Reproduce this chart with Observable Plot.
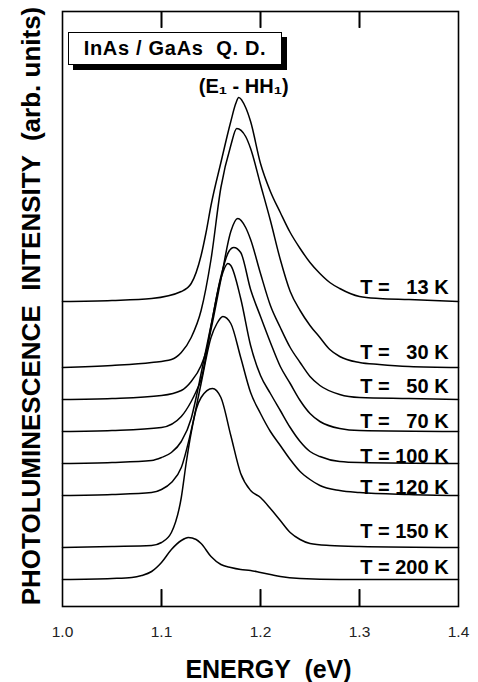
<!DOCTYPE html>
<html><head><meta charset="utf-8">
<script src="https://cdn.jsdelivr.net/npm/d3@7"></script>
<script src="https://cdn.jsdelivr.net/npm/@observablehq/plot@0.6"></script>
<style>
body{margin:0;background:#fff;font-family:"Liberation Sans",Arial,sans-serif;}
#wrap{position:relative;width:478px;height:682px;}
#box{position:absolute;left:68px;top:32px;width:212px;height:31px;border:1.5px solid #000;box-shadow:5px 5px 0 #000;background:#fff;font-weight:bold;font-size:20px;letter-spacing:0.7px;display:flex;align-items:center;justify-content:center;white-space:pre;z-index:2;}
</style></head><body><div id="wrap"></div>
<script>
// Temperatures (K) and vertical offsets of each spectrum (arb. units)
const temps   = [13, 30, 50, 70, 100, 120, 150, 200];
const offsets = [305, 239, 207, 175, 143, 111, 59, 27];
const labelY  = [313, 248, 214, 179, 144, 113, 69, 33];
const xTicks  = [1.0, 1.1, 1.2, 1.3, 1.4];
const yDomain = [0, 595];
const tickLen = 17;

// [energy (eV), PL intensity above own baseline (arb. units)]
const pl13K = [[1.00,0],[1.05,1],[1.09,3],[1.12,10],[1.13,18],[1.14,46],[1.145,69],[1.15,96],[1.16,139],[1.17,180],[1.175,198],[1.178,204],[1.185,194],[1.19,180],[1.20,138],[1.21,110],[1.22,89],[1.23,69],[1.24,53],[1.25,39],[1.26,28],[1.27,19],[1.28,13],[1.30,5],[1.32,3],[1.35,2],[1.40,0]];
const pl30K = [[1.00,0],[1.05,2],[1.09,5],[1.11,8],[1.12,15],[1.13,30],[1.14,57],[1.15,108],[1.16,180],[1.17,222],[1.176,239],[1.185,231],[1.19,219],[1.20,183],[1.21,147],[1.22,108],[1.23,76],[1.24,57],[1.25,42],[1.26,30],[1.27,18],[1.28,11],[1.30,5],[1.32,3],[1.35,1],[1.40,0]];
const pl50K = [[1.00,0],[1.05,1],[1.10,4],[1.12,9],[1.13,18],[1.14,34],[1.145,48],[1.15,70],[1.16,120],[1.17,168],[1.177,181],[1.185,172],[1.19,160],[1.20,126],[1.21,94],[1.22,72],[1.23,52],[1.24,37],[1.25,23],[1.26,14],[1.28,5],[1.30,2],[1.35,1],[1.40,0]];
const pl70K = [[1.00,0],[1.05,1],[1.10,4],[1.12,15],[1.13,30],[1.135,40],[1.14,52],[1.15,105],[1.16,155],[1.168,180],[1.173,184],[1.18,179],[1.19,142],[1.20,115],[1.21,89],[1.22,65],[1.23,48],[1.24,31],[1.25,18],[1.26,10],[1.28,3],[1.30,1],[1.40,0]];
const pl100K = [[1.00,0],[1.05,1],[1.09,3],[1.10,6],[1.11,11],[1.12,22],[1.13,45],[1.135,66],[1.14,90],[1.15,138],[1.16,185],[1.167,200],[1.17,198],[1.18,165],[1.19,118],[1.20,88],[1.21,70],[1.22,53],[1.23,36],[1.24,22],[1.25,12],[1.26,7],[1.28,2],[1.30,1],[1.40,0]];
const pl120K = [[1.00,0],[1.05,1],[1.09,3],[1.10,6],[1.11,13],[1.12,28],[1.13,65],[1.14,112],[1.15,158],[1.156,172],[1.162,179],[1.17,172],[1.18,138],[1.19,103],[1.20,82],[1.21,64],[1.22,50],[1.23,36],[1.24,24],[1.25,16],[1.26,10],[1.28,5],[1.30,3],[1.35,1],[1.40,0]];
const pl150K = [[1.00,0],[1.05,1],[1.09,2],[1.10,5],[1.11,15],[1.12,50],[1.125,85],[1.13,115],[1.135,138],[1.14,150],[1.1515,159],[1.16,150],[1.17,112],[1.18,74],[1.19,57],[1.20,50],[1.21,39],[1.22,27],[1.23,15],[1.24,8],[1.25,4],[1.27,2],[1.30,1],[1.40,0]];
const pl200K = [[1.00,0],[1.05,1],[1.07,2],[1.08,4],[1.09,8],[1.10,17],[1.11,30],[1.12,39],[1.127,42],[1.135,40],[1.14,36],[1.15,23],[1.16,15],[1.17,12],[1.18,10],[1.19,9],[1.20,7],[1.21,5],[1.22,3],[1.24,1],[1.28,0],[1.40,0]];

const spectra = [pl13K, pl30K, pl50K, pl70K, pl100K, pl120K, pl150K, pl200K];

const rows = [];
spectra.forEach((s, i) => s.forEach(([e, v]) => rows.push({T: temps[i], E: e, I: v + offsets[i]})));
const labels = temps.map((t, i) => ({text: "T =" + (t < 100 ? "   " : " ") + t + " K", y: labelY[i]}));
const peak13 = pl13K.reduce((a, b) => (b[1] > a[1] ? b : a));
const peakRow = [{E: peak13[0], I: peak13[1] + offsets[0]}];
const innerTicks = xTicks.slice(1, -1);
const tickRows = innerTicks.flatMap(x => [
  {x, y1: yDomain[0], y2: yDomain[0] + tickLen},
  {x, y1: yDomain[1] - tickLen + 1, y2: yDomain[1]}
]);

const chart = Plot.plot({
  width: 478, height: 682,
  marginLeft: 62, marginRight: 20, marginTop: 11, marginBottom: 76,
  x: {domain: [1.0, 1.4]},
  y: {domain: yDomain, axis: null},
  style: {fontFamily: "'Liberation Sans', Arial, sans-serif", color: "#000", background: "#fff"},
  marks: [
    Plot.axisX({anchor: "bottom", ticks: xTicks, tickSize: 0, tickPadding: 19, tickFormat: d3.format(".1f"), fontSize: 15.5, label: null, fill: "#222"}),
    Plot.axisX({anchor: "bottom", ticks: innerTicks, tickSize: tickLen, dy: -tickLen, fill: "none", label: null, stroke: "#000", strokeWidth: 1.6}),
    Plot.axisX({anchor: "top", ticks: innerTicks, tickSize: tickLen - 1, dy: tickLen - 1, fill: "none", label: null, stroke: "#000", strokeWidth: 1.6}),
    Plot.line(rows, {x: "E", y: "I", z: "T", curve: "monotone-x", stroke: "#000", strokeWidth: 1.5}),
    Plot.frame({stroke: "#000", strokeWidth: 1.6}),
    Plot.link(tickRows, {x1: "x", x2: "x", y1: "y1", y2: "y2", stroke: "#000", strokeWidth: 1.6}),
    Plot.text(labels, {x: () => 1.39, y: "y", text: "text", textAnchor: "end", lineAnchor: "bottom", fontSize: 20, fontWeight: "bold"}),
    Plot.text(peakRow, {x: "E", y: "I", text: () => "(E\u2081 - HH\u2081)", dx: 5, dy: -5, lineAnchor: "bottom", fontSize: 20, fontWeight: "bold"}),
    Plot.text(["PHOTOLUMINESCENCE  INTENSITY  (arb. units)"], {frameAnchor: "left", textAnchor: "middle", rotate: -90, dx: -31, dy: -3, fontSize: 26, fontWeight: "bold"}),
    Plot.text(["ENERGY  (eV)"], {frameAnchor: "bottom", dx: 8, dy: 71, lineAnchor: "bottom", fontSize: 25, fontWeight: "bold"})
  ]
});
const wrap = document.getElementById("wrap");
wrap.appendChild(chart);
const box = document.createElement("div");
box.id = "box";
box.textContent = "InAs / GaAs  Q. D.";
wrap.appendChild(box);
</script>
</body></html>
